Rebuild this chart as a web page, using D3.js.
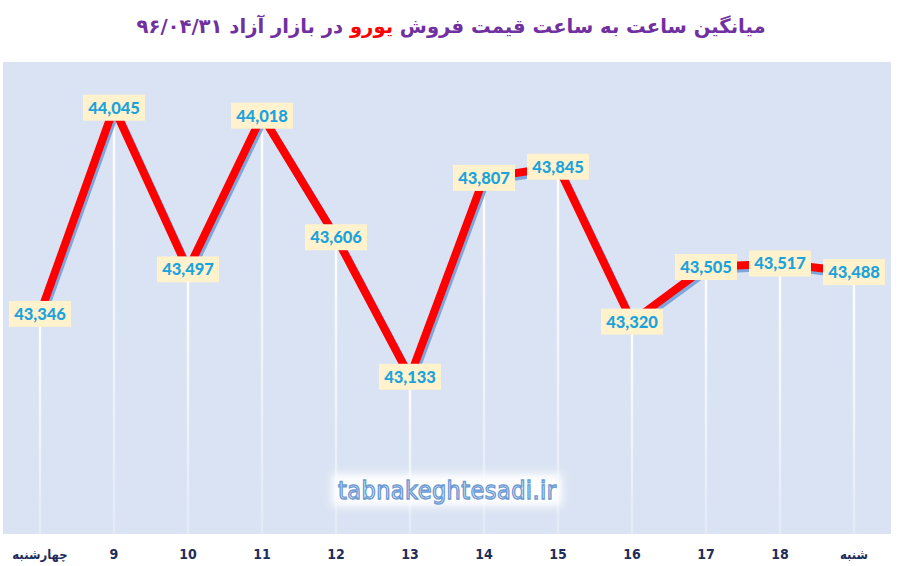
<!doctype html>
<html lang="fa">
    <head>
        <meta charset="utf-8">
        <title>میانگین ساعت به ساعت قیمت فروش یورو</title>
        <style>
            body { margin: 0; background: #fff; }
        </style>
    </head>

    <body>
        <script src="https://cdnjs.cloudflare.com/ajax/libs/d3/7.8.5/d3.min.js"></script>
        <script>

            // data
            var categories = ["چهارشنبه", "9", "10", "11", "12", "13", "14", "15", "16", "17", "18", "شنبه"];
            var prices = [43346, 44045, 43497, 44018, 43606, 43133, 43807, 43845, 43320, 43505, 43517, 43488];
            var yDomain = [42600, 44200];

            var w = 901;
            var h = 566;
            var plot = { left: 3, right: 891, top: 62, bottom: 534 };

            var svg = d3.select("body")
                        .append("svg")
                        .attr("width", w)
                        .attr("height", h);

            var defs = svg.append("defs");

            var grad = defs.append("linearGradient")
                .attr("id", "dropGrad")
                .attr("x1", 0).attr("y1", 0)
                .attr("x2", 0).attr("y2", 1);
            grad.append("stop").attr("offset", "0%").attr("stop-color", "#ffffff").attr("stop-opacity", 1);
            grad.append("stop").attr("offset", "100%").attr("stop-color", "#ffffff").attr("stop-opacity", 0.25);

            var glow = defs.append("filter")
                .attr("id", "glow")
                .attr("x", "-20%").attr("y", "-50%")
                .attr("width", "140%").attr("height", "200%");
            glow.append("feGaussianBlur").attr("stdDeviation", 4);

            var x = d3.scaleBand()
                .domain(categories)
                .range([plot.left, plot.right]);

            var y = d3.scaleLinear()
                .domain(yDomain)
                .range([plot.bottom, plot.top]);

            var cx = function(d, i) { return x(categories[i]) + x.bandwidth() / 2; };

            // plot area
            svg.append("rect")
                .attr("x", plot.left)
                .attr("y", plot.top)
                .attr("width", plot.right - plot.left)
                .attr("height", plot.bottom - plot.top)
                .attr("fill", "#dae3f3");

            // drop lines
            svg.selectAll("rect.drop")
                .data(prices)
                .enter()
                .append("rect")
                .attr("class", "drop")
                .attr("x", function(d, i) { return cx(d, i) - 1.2; })
                .attr("y", function(d) { return y(d); })
                .attr("width", 2.4)
                .attr("height", function(d) { return plot.bottom - y(d); })
                .attr("fill", "url(#dropGrad)");

            // watermark
            var wm = svg.append("g").attr("transform", "translate(447,490)");
            wm.append("rect")
                .attr("x", -115).attr("y", -16)
                .attr("width", 230).attr("height", 32)
                .attr("fill", "#ffffff")
                .attr("filter", "url(#glow)");
            wm.append("text")
                .attr("text-anchor", "middle")
                .attr("dy", "0.35em")
                .attr("font-family", "'DejaVu Sans Condensed', sans-serif")
                .attr("font-size", 25)
                .attr("textLength", 218)
                .attr("fill", "#e4edf9")
                .attr("stroke", "#6d9ad2")
                .attr("stroke-width", 1.3)
                .text("tabnakeghtesadi.ir");

            var line = d3.line()
                .x(function(d, i) { return cx(d, i); })
                .y(function(d) { return y(d); });

            // shadow and main line
            svg.append("path")
                .datum(prices)
                .attr("d", line)
                .attr("transform", "translate(2,3)")
                .attr("fill", "none")
                .attr("stroke", "#7ea6dc")
                .attr("stroke-width", 8)
                .attr("stroke-linejoin", "round");

            svg.append("path")
                .datum(prices)
                .attr("d", line)
                .attr("fill", "none")
                .attr("stroke", "#ff0000")
                .attr("stroke-width", 8)
                .attr("stroke-linejoin", "round");

            // data labels
            var fmt = d3.format(",");
            var labels = svg.selectAll("g.label")
                .data(prices)
                .enter()
                .append("g")
                .attr("class", "label")
                .attr("transform", function(d, i) {
                    return "translate(" + cx(d, i) + "," + y(d) + ")";
                });

            labels.append("rect")
                .attr("x", -31)
                .attr("y", -13)
                .attr("width", 62)
                .attr("height", 26)
                .attr("fill", "#fff2cc");

            labels.append("text")
                .attr("text-anchor", "middle")
                .attr("dy", "0.36em")
                .attr("font-family", "Lato, sans-serif")
                .attr("font-weight", 900)
                .attr("font-size", 16.5)
                .attr("fill", "#1ca3dc")
                .text(function(d) { return fmt(d); });

            // category labels
            svg.selectAll("text.cat")
                .data(categories)
                .enter()
                .append("text")
                .attr("class", "cat")
                .attr("x", function(d) { return x(d) + x.bandwidth() / 2; })
                .attr("y", 559)
                .attr("text-anchor", "middle")
                .attr("font-family", "'DejaVu Sans Condensed', sans-serif")
                .attr("font-weight", "bold")
                .attr("font-size", function(d) { return isNaN(+d) ? 13 : 14; })
                .attr("fill", "#1f2d5a")
                .text(function(d) { return d; });

            // title
            var title = svg.append("text")
                .attr("x", 451)
                .attr("y", 33)
                .attr("text-anchor", "middle")
                .attr("direction", "rtl")
                .attr("font-family", "'DejaVu Sans', sans-serif")
                .attr("font-weight", "bold")
                .attr("font-size", 19.6)
                .attr("fill", "#7030a0");
            title.append("tspan").text("میانگین ساعت به ساعت قیمت فروش ");
            title.append("tspan").attr("fill", "#ff0000").text("یورو");
            title.append("tspan").text(" در بازار آزاد ۹۶/۰۴/۳۱");

        </script>
    </body>
</html>
